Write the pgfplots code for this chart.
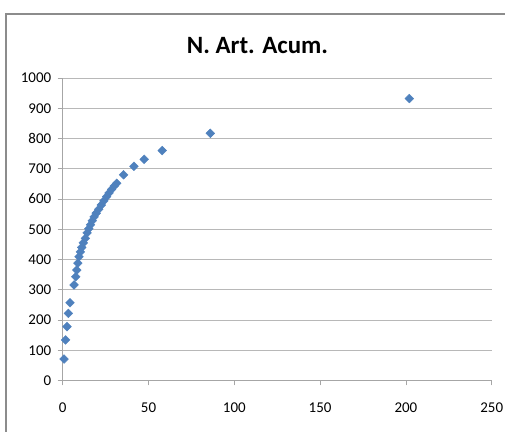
\documentclass[border=0pt]{standalone}
\usepackage{fontspec}
\setmainfont{Carlito}
\usepackage{pgfplots}
\pgfplotsset{compat=1.18}
\definecolor{exblue}{HTML}{4F81BD}
\definecolor{gridgray}{HTML}{B8B8B8}
\definecolor{framegray}{HTML}{8C8C8C}
\begin{document}
\begin{tikzpicture}[x=1bp,y=1bp]
\useasboundingbox (-62.7,-51.5) rectangle (442.3,380.5);
\draw[framegray, line width=1.2bp] (-56.7,-80) rectangle (470,366.5);
\begin{axis}[at={(0,0)}, anchor=south west, scale only axis,
 width=429bp, height=302.5bp,
 xmin=0, xmax=250, ymin=0, ymax=1000,
 xtick={0,50,...,250}, ytick={0,100,...,1000},
 axis x line*=bottom, axis y line*=left,
 axis line style={draw=gray!70, -, line width=0.8bp},
 ymajorgrids, grid style={gridgray, line width=0.8bp},
 tick style={gray!70, line width=0.8bp}, tick align=outside, major tick length=5bp,
 ticklabel style={font=\fontsize{15}{16}\selectfont},
 /pgf/number format/assume math mode=true,
 /pgf/number format/1000 sep={},
 clip=false,
 xticklabel style={yshift=-14bp},
 yticklabel style={xshift=-3bp},
 ]
\addplot[only marks, mark=square*, mark size=3.1bp,
  mark options={rotate=45, fill=exblue, draw=exblue}] coordinates {
(0.8,71) (1.7,134) (2.5,178) (3.3,222) (4.3,257) (6.6,316) (7.6,343)
(8.2,365) (8.8,388) (9.5,409) (10.3,425) (11.1,440) (12,455) (13.2,470)
(14.2,488) (15.2,502) (16.2,515) (17.2,528) (18.3,541) (19.5,553)
(21,566) (22.5,580) (24,594) (25.6,608) (27,620) (28.5,632) (30,643)
(31.5,652) (35.5,680) (41.5,708) (47.5,731) (58,760) (86,817) (202,932)
};
\end{axis}
\node[font=\fontsize{25}{30}\selectfont\bfseries] at (194.8,334.5) {N. Art. Acum.};
\end{tikzpicture}
\end{document}
